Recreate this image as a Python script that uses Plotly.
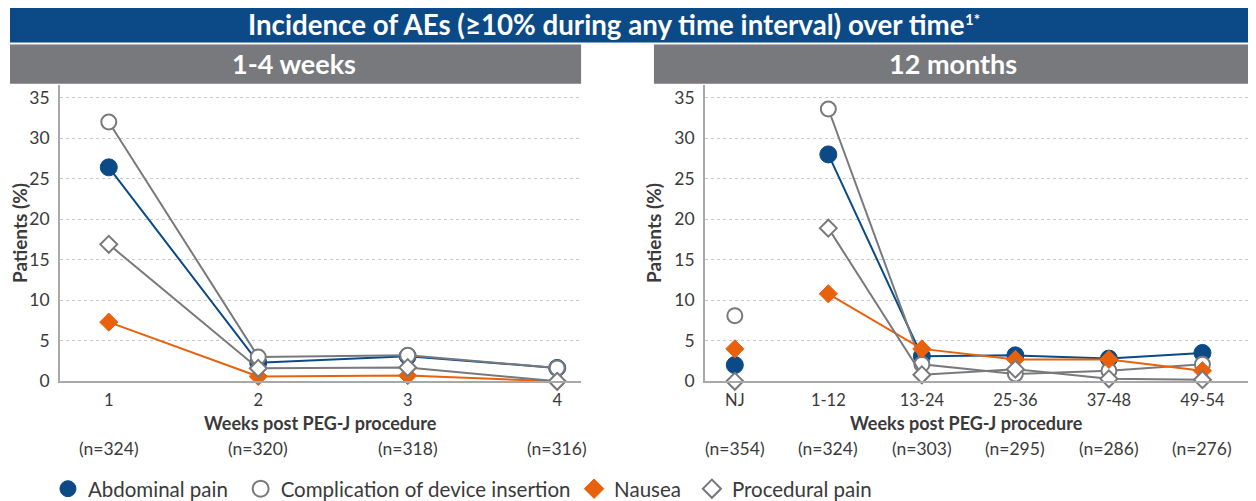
import plotly.graph_objects as go

# Calibrated mapping from figure pixels to the photographed picture:
#   picture_x = fig_x + 8 ; picture_y = 8.7 + 0.975 * fig_y
W, H = 1248, 506
OX, OY, SY = 8.0, 8.7, 0.975

# ---------------- data ----------------
weeks = [1, 2, 3, 4]
weeks_n = ["(n=324)", "(n=320)", "(n=318)", "(n=316)"]
wk_abdominal = [26.4, 2.3, 3.1, 1.65]
wk_complication = [32.0, 3.0, 3.2, 1.65]
wk_nausea = [7.3, 0.6, 0.7, 0.0]
wk_procedural = [16.9, 1.6, 1.7, 0.0]

months_cats = ["NJ", "1-12", "13-24", "25-36", "37-48", "49-54"]
months_n = ["(n=354)", "(n=324)", "(n=303)", "(n=295)", "(n=286)", "(n=276)"]
nj_abdominal, nj_complication, nj_nausea, nj_procedural = 2.0, 8.1, 4.0, 0.0
mo_abdominal = [28.0, 3.1, 3.2, 2.8, 3.5]
mo_complication = [33.6, 2.1, 0.9, 1.3, 2.1]
mo_nausea = [10.8, 4.0, 2.7, 2.7, 1.3]
mo_procedural = [18.9, 0.8, 1.5, 0.3, 0.2]

series_names = ["Abdominal pain", "Complication of device insertion", "Nausea", "Procedural pain"]

# ---------------- styles ----------------
BLUE = "#0b4a87"
ORANGE = "#e8620e"
GRAY = "#78797c"
FONT = "Lato"
TXT = "#3a3a3a"

styles = {
    "Abdominal pain": dict(line=BLUE, marker=dict(symbol="circle", size=17, color=BLUE, line=dict(color=BLUE, width=1))),
    "Complication of device insertion": dict(line=GRAY, marker=dict(symbol="circle", size=15, color="white", line=dict(color=GRAY, width=2))),
    "Nausea": dict(line=ORANGE, marker=dict(symbol="diamond", size=14, color=ORANGE, line=dict(color=ORANGE, width=1))),
    "Procedural pain": dict(line=GRAY, marker=dict(symbol="diamond", size=13, color="white", line=dict(color=GRAY, width=2))),
}
legend_marker = {
    "Abdominal pain": dict(symbol="circle", size=18, color=BLUE, line=dict(color=BLUE, width=1)),
    "Complication of device insertion": dict(symbol="circle", size=16, color="white", line=dict(color=GRAY, width=2)),
    "Nausea": dict(symbol="diamond", size=15, color=ORANGE, line=dict(color=ORANGE, width=1)),
    "Procedural pain": dict(symbol="diamond", size=14, color="white", line=dict(color=GRAY, width=2)),
}


def px_x(p):
    """picture x pixel -> paper x"""
    return (p - OX) / W


def px_y(p):
    """picture y pixel -> paper y"""
    return 1 - ((p - OY) / SY) / H


fig = go.Figure()

wk_data = [wk_abdominal, wk_complication, wk_nausea, wk_procedural]
mo_data = [mo_abdominal, mo_complication, mo_nausea, mo_procedural]
nj_data = [nj_abdominal, nj_complication, nj_nausea, nj_procedural]
order = ["Abdominal pain", "Complication of device insertion", "Nausea", "Procedural pain"]

for name, yw, ym, yn in zip(order, wk_data, mo_data, nj_data):
    st = styles[name]
    fig.add_trace(go.Scatter(x=weeks, y=yw, mode="lines+markers", showlegend=False,
                             line=dict(color=st["line"], width=2), marker=st["marker"],
                             xaxis="x", yaxis="y", cliponaxis=False))
    fig.add_trace(go.Scatter(x=months_cats[1:], y=ym, mode="lines+markers", showlegend=False,
                             line=dict(color=st["line"], width=2), marker=st["marker"],
                             xaxis="x2", yaxis="y2", cliponaxis=False))
    fig.add_trace(go.Scatter(x=[months_cats[0]], y=[yn], mode="markers", showlegend=False,
                             marker=st["marker"], xaxis="x2", yaxis="y2", cliponaxis=False))

# legend entries, each in its own legend so they sit where the reference has them
legend_text_starts = [87, 280, 614, 732]
legend_keys = ["legend", "legend2", "legend3", "legend4"]
for name, key in zip(series_names, legend_keys):
    fig.add_trace(go.Scatter(x=[None], y=[None], mode="markers", name=name,
                             marker=legend_marker[name], xaxis="x", yaxis="y", legend=key))

y_dom = [px_y(380), px_y(85)]
yaxis_common = dict(range=[0, 36.6], tickvals=[0, 5, 10, 15, 20, 25, 30, 35],
                    showgrid=True, gridcolor="#c9c9c9", griddash="dot", gridwidth=1,
                    showline=True, linecolor="#a8a8a8", linewidth=1.5, zeroline=False,
                    ticks="", ticklabelstandoff=5,
                    tickfont=dict(family=FONT, size=17.5, color=TXT),
                    title=dict(text="<b>Patients (%)</b>", font=dict(family=FONT, size=19, color=TXT), standoff=8),
                    fixedrange=True)
xaxis_common = dict(showgrid=False, showline=True, linecolor="#a8a8a8", linewidth=1.5,
                    zeroline=False, ticks="", ticklabelstandoff=3,
                    tickfont=dict(family=FONT, size=16.5, color=TXT),
                    fixedrange=True)

layout_kwargs = dict(
    width=W, height=H,
    margin=dict(l=0, r=0, t=0, b=0),
    paper_bgcolor="white", plot_bgcolor="white",
    xaxis=dict(domain=[px_x(58), px_x(580)], range=[0.673, 4.16], tickvals=weeks,
               ticktext=[str(w) for w in weeks], anchor="y", **xaxis_common),
    yaxis=dict(domain=y_dom, anchor="x", **yaxis_common),
    xaxis2=dict(domain=[px_x(704), px_x(1252)], type="category", categoryorder="array",
                categoryarray=months_cats, range=[-0.32, 5.53], anchor="y2", **xaxis_common),
    yaxis2=dict(domain=y_dom, anchor="x2", **yaxis_common),
    showlegend=True,
)
for key, tx in zip(legend_keys, legend_text_starts):
    layout_kwargs[key] = dict(orientation="h", x=px_x(tx - 41), xanchor="left",
                              y=px_y(487), yanchor="middle",
                              font=dict(family=FONT, size=20.5, color=TXT), itemwidth=30,
                              bgcolor="rgba(0,0,0,0)", borderwidth=0)
fig.update_layout(**layout_kwargs)

shapes = [
    dict(type="rect", xref="paper", yref="paper", x0=0, x1=px_x(1253), y0=px_y(43), y1=1,
         fillcolor=BLUE, line=dict(width=0), layer="below"),
    dict(type="rect", xref="paper", yref="paper", x0=0, x1=px_x(580), y0=px_y(84), y1=px_y(45),
         fillcolor=GRAY, line=dict(width=0), layer="below"),
    dict(type="rect", xref="paper", yref="paper", x0=px_x(653), x1=px_x(1253), y0=px_y(84), y1=px_y(45),
         fillcolor=GRAY, line=dict(width=0), layer="below"),
]
fig.update_layout(shapes=shapes)

ann = [
    dict(text="<b>Incidence of AEs (≥10% during any time interval) over time</b>",
         x=px_x(605), y=px_y(25.5), font=dict(family=FONT, size=27.7, color="white")),
    dict(text="<b>1-4 weeks</b>", x=px_x(292), y=px_y(64), font=dict(family=FONT, size=27, color="white")),
    dict(text="<b>12 months</b>", x=px_x(953), y=px_y(64), font=dict(family=FONT, size=27, color="white")),
    dict(text="<b>Weeks post PEG-J procedure</b>", x=px_x(319), y=px_y(421), font=dict(family=FONT, size=18, color=TXT)),
    dict(text="<b>Weeks post PEG-J procedure</b>", x=px_x(966), y=px_y(421), font=dict(family=FONT, size=18, color=TXT)),
]
for a in ann:
    a.update(xref="paper", yref="paper", showarrow=False, xanchor="center", yanchor="middle")
    fig.add_annotation(**a)

# footnote marks of the title
fig.add_annotation(text="<b>1*</b>", xref="paper", yref="paper", x=px_x(963), y=1 - 0.5 / H,
                   xanchor="left", yanchor="top", showarrow=False,
                   font=dict(family=FONT, size=15, color="white"))

for w, t in zip(weeks, weeks_n):
    fig.add_annotation(x=w, xref="x", y=px_y(447), yref="paper", text=t, showarrow=False,
                       xanchor="center", yanchor="middle", font=dict(family=FONT, size=17.5, color=TXT))
for c, t in zip(months_cats, months_n):
    fig.add_annotation(x=c, xref="x2", y=px_y(447), yref="paper", text=t, showarrow=False,
                       xanchor="center", yanchor="middle", font=dict(family=FONT, size=17.5, color=TXT))

fig.write_html("out.html")
